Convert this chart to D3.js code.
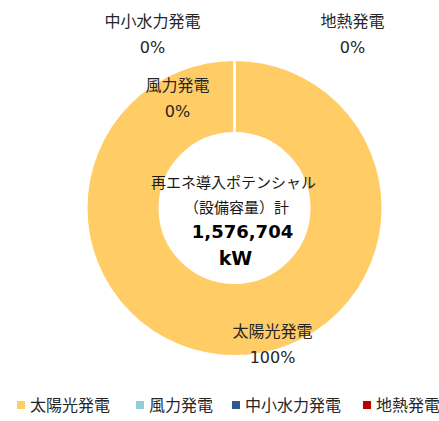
<!DOCTYPE html>
<html><head><meta charset="utf-8">
<script src="https://cdn.jsdelivr.net/npm/d3@7"></script>
<style>
html,body{margin:0;padding:0;background:#fff;}
svg{display:block;font-family:"Noto Sans CJK JP","Noto Sans",sans-serif;}
</style></head>
<body>
<script>
const categories = ["太陽光発電", "風力発電", "中小水力発電", "地熱発電"];
const values = [1576704, 0, 0, 0];
const percentLabels = ["100%", "0%", "0%", "0%"];
const colors = ["#FFCC66", "#92CDDC", "#2F5A8F", "#C00000"];
const centerTitle = ["再エネ導入ポテンシャル", "（設備容量）計"];
const totalLabel = "1,576,704";
const unitLabel = "kW";

const W = 439, H = 421;
const cx = 234.5, cy = 208, rOuter = 148, rInner = 75;

const svg = d3.select("body").append("svg").attr("width", W).attr("height", H);
const g = svg.append("g").attr("transform", `translate(${cx},${cy})`);

const pie = d3.pie().sort(null).value(d => d.v);
const data = pie(categories.map((c, i) => ({c, v: values[i], i})));
const arc = d3.arc().innerRadius(rInner).outerRadius(rOuter);

g.selectAll("path.slice").data(data).join("path")
  .attr("class", "slice")
  .attr("d", arc)
  .attr("fill", d => colors[d.data.i])
  .attr("stroke", "#fff")
  .attr("stroke-width", 2);

// label placement (Excel-style: zero slices spread near the top)
const labelPos = [
  [38, 129],    // 太陽光発電
  [-57, -117],  // 風力発電
  [-82, -181],  // 中小水力発電
  [118, -181]   // 地熱発電
];
data.forEach((d) => {
  const [dx, dy] = labelPos[d.data.i];
  g.append("text").attr("text-anchor", "middle")
    .attr("font-size", 16).attr("fill", "#262626")
    .attr("x", dx).attr("y", dy).text(d.data.c);
  g.append("text").attr("text-anchor", "middle")
    .attr("font-family", "'DejaVu Sans',sans-serif")
    .attr("font-size", 16).attr("fill", "#262626")
    .attr("x", dx).attr("y", dy + 26).text(percentLabels[d.data.i]);
});

// center text
g.append("text").attr("text-anchor", "middle").attr("font-size", 15).attr("fill", "#1a1a1a")
  .attr("x", -1).attr("y", -20).text(centerTitle[0]);
g.append("text").attr("text-anchor", "middle").attr("font-size", 15).attr("fill", "#1a1a1a")
  .attr("x", 2).attr("y", 5).text(centerTitle[1]);
g.append("text").attr("text-anchor", "middle").attr("font-size", 18).attr("font-weight", "bold")
  .attr("font-family", "'DejaVu Sans',sans-serif")
  .attr("fill", "#000").attr("x", 8).attr("y", 30).text(totalLabel);
g.append("text").attr("text-anchor", "middle").attr("font-size", 19).attr("font-weight", "bold")
  .attr("font-family", "'DejaVu Sans',sans-serif")
  .attr("fill", "#000").attr("x", 1).attr("y", 57).text(unitLabel);

// legend
const legendX = [17, 136, 232, 363];
const lg = svg.append("g");
categories.forEach((c, i) => {
  const item = lg.append("g").attr("transform", `translate(${legendX[i]},405)`);
  item.append("rect").attr("x", 0).attr("y", -4).attr("width", 8).attr("height", 8).attr("fill", colors[i]);
  item.append("text").attr("x", 13).attr("y", 0).attr("dy", "0.35em")
    .attr("font-size", 16).attr("fill", "#262626").text(c);
});
</script>
</body></html>
